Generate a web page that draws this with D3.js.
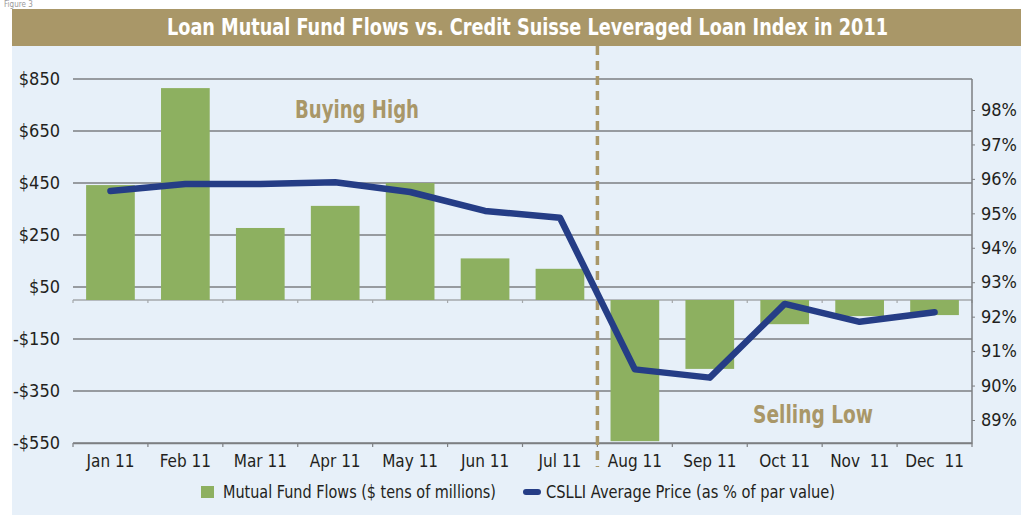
<!DOCTYPE html>
<html>
<head>
<meta charset="utf-8">
<script src="https://cdn.jsdelivr.net/npm/d3@7"></script>
<style>
  body { margin: 0; background: #fff; }
  svg { display: block; }
  text { font-family: "DejaVu Sans Condensed", "Liberation Sans Narrow", sans-serif; }
</style>
</head>
<body>
<svg id="chart"></svg>
<script>
// ---- data ----
let months = ['Jan 11', 'Feb 11', 'Mar 11', 'Apr 11', 'May 11', 'Jun 11',
              'Jul 11', 'Aug 11', 'Sep 11', 'Oct 11', 'Nov  11', 'Dec  11'];
// Mutual fund flows, $ tens of millions
let flows = [442, 815, 277, 362, 450, 160, 120, -543, -265, -93, -62, -58];
// CSLLI average price, % of par
let prices = [95.65, 95.85, 95.85, 95.9, 95.62, 95.07, 94.87, 90.47, 90.23, 92.37, 91.85, 92.13];
let leftTicks = [850, 650, 450, 250, 50, -150, -350, -550];
let rightTicks = [98, 97, 96, 95, 94, 93, 92, 91, 90, 89];

let title = 'Loan Mutual Fund Flows vs. Credit Suisse Leveraged Loan Index in 2011';
let legendLabels = ['Mutual Fund Flows ($ tens of millions)', 'CSLLI Average Price (as % of par value)'];

let tan = '#a99768';
let green = '#8db060';
let blue = '#253d86';
let gridColor = '#7d7f82';
let font = '"DejaVu Sans Condensed", "Liberation Sans Narrow", sans-serif';

function getConfig() {
  let width = 1021;
  let height = 515;
  let margin = { top: 79, bottom: 72, left: 73, right: 49 };
  let bodyWidth = width - margin.left - margin.right;
  let bodyHeight = height - margin.top - margin.bottom;
  let container = d3.select('#chart').attr('width', width).attr('height', height);
  return { width, height, margin, bodyWidth, bodyHeight, container };
}

function getScales(config) {
  let { bodyWidth, bodyHeight } = config;
  let xScale = d3.scaleBand().range([0, bodyWidth]).domain(months).paddingInner(0.35).paddingOuter(0.175);
  let xBand = d3.scaleBand().range([0, bodyWidth]).domain(months);
  let yScale = d3.scaleLinear().range([0, bodyHeight]).domain([850, -550]);
  // right axis: 98% sits 31px below top, 89% 23px above bottom
  let yRight = d3.scaleLinear().range([31, bodyHeight - 23]).domain([98, 89]);
  return { xScale, xBand, yScale, yRight };
}

function drawFrame(config) {
  let { container, width, height } = config;
  container.append('text')
    .attr('x', 4).attr('y', 7)
    .attr('fill', '#999').style('font-size', '8px')
    .text('Figure 3');
  container.append('rect')
    .attr('x', 12).attr('y', 46).attr('width', width - 12).attr('height', height - 46)
    .attr('fill', '#e7f0f9');
  container.append('rect')
    .attr('x', 12).attr('y', 9).attr('width', width - 12).attr('height', 37)
    .attr('fill', tan);
  container.append('text')
    .attr('x', 167).attr('y', 35)
    .attr('textLength', 721).attr('lengthAdjust', 'spacingAndGlyphs')
    .attr('fill', '#fff')
    .style('font-size', '23px').style('font-weight', 'bold')
    .text(title);
}

function drawAxes(scales, config) {
  let { xBand, yScale, yRight } = scales;
  let { container, margin, bodyWidth, bodyHeight } = config;
  let body = container.append('g').attr('transform', `translate(${margin.left},${margin.top})`);

  // grid lines from the left axis ticks
  body.selectAll('.grid').data(leftTicks).enter().append('line')
    .attr('x1', 0).attr('x2', bodyWidth)
    .attr('y1', d => yScale(d)).attr('y2', d => yScale(d))
    .attr('stroke', gridColor).attr('stroke-width', 1.5);

  let axisLeft = d3.axisLeft(yScale).tickValues(leftTicks).tickSize(0).tickPadding(13)
    .tickFormat(d => (d < 0 ? '-$' : '$') + Math.abs(d));
  body.append('g').call(axisLeft)
    .call(g => g.select('.domain').remove())
    .call(g => g.selectAll('text').attr('fill', '#231f20').style('font-size', '18px').style('font-family', font));

  // zero line with small ticks at the month boundaries
  let boundaries = months.map(m => xBand(m)).concat([bodyWidth]);
  let zero = body.append('g').attr('transform', `translate(0,${yScale(0)})`);
  zero.append('line').attr('x1', 0).attr('x2', bodyWidth).attr('stroke', '#a5a8ab').attr('stroke-width', 1.5);
  zero.selectAll('.tk').data(boundaries).enter().append('line')
    .attr('x1', d => d).attr('x2', d => d).attr('y1', 0).attr('y2', 3)
    .attr('stroke', '#a5a8ab').attr('stroke-width', 1.2);

  // bottom axis
  let axisBottom = d3.axisBottom(xBand).tickSize(0).tickPadding(12);
  let bottom = body.append('g').attr('transform', `translate(0,${bodyHeight})`).call(axisBottom);
  bottom.select('.domain').attr('stroke', gridColor).attr('stroke-width', 1.5);
  bottom.selectAll('text').attr('fill', '#231f20').style('font-size', '17px')
    .style('font-family', font).style('white-space', 'pre');
  bottom.selectAll('.btk').data(boundaries).enter().append('line')
    .attr('x1', d => d).attr('x2', d => d).attr('y1', 0).attr('y2', 4)
    .attr('stroke', gridColor).attr('stroke-width', 1.2);

  // right axis
  let axisRight = d3.axisRight(yRight).tickValues(rightTicks).tickSize(3).tickPadding(6)
    .tickFormat(d => d + '%');
  let right = body.append('g').attr('transform', `translate(${bodyWidth},0)`).call(axisRight);
  right.select('.domain').attr('d', `M0,0V${bodyHeight}`).attr('stroke', gridColor).attr('stroke-width', 1.5);
  right.selectAll('.tick line').attr('stroke', gridColor);
  right.selectAll('text').attr('fill', '#231f20').style('font-size', '18px').style('font-family', font);

  return body;
}

function drawBars(body, scales) {
  let { xScale, yScale } = scales;
  body.selectAll('.bar').data(flows).enter().append('rect')
    .attr('class', 'bar')
    .attr('x', (d, i) => xScale(months[i]))
    .attr('width', xScale.bandwidth())
    .attr('y', d => yScale(Math.max(0, d)))
    .attr('height', d => Math.abs(yScale(d) - yScale(0)))
    .attr('fill', green);
}

function drawDivider(body, scales, config) {
  let { xBand } = scales;
  let x = xBand('Aug 11');
  body.append('line')
    .attr('x1', x).attr('x2', x)
    .attr('y1', 46 - config.margin.top).attr('y2', config.bodyHeight + 24)
    .attr('stroke', tan).attr('stroke-width', 3.5)
    .attr('stroke-dasharray', '9,6');
}

function drawLine(body, scales) {
  let { xBand, yRight } = scales;
  let line = d3.line()
    .x((d, i) => xBand(months[i]) + xBand.bandwidth() / 2)
    .y(d => yRight(d));
  body.append('path').datum(prices)
    .attr('d', line)
    .attr('fill', 'none')
    .attr('stroke', blue).attr('stroke-width', 6.5)
    .attr('stroke-linecap', 'round').attr('stroke-linejoin', 'round');
}

function drawNotes(config) {
  let { container } = config;
  container.append('text').attr('x', 295).attr('y', 118)
    .attr('textLength', 124).attr('lengthAdjust', 'spacingAndGlyphs')
    .attr('fill', tan).style('font-size', '25px').style('font-weight', 'bold').text('Buying High');
  container.append('text').attr('x', 753).attr('y', 423)
    .attr('textLength', 120).attr('lengthAdjust', 'spacingAndGlyphs')
    .attr('fill', tan).style('font-size', '25px').style('font-weight', 'bold').text('Selling Low');
}

function drawLegend(config) {
  let { container } = config;
  let g = container.append('g');
  g.append('rect').attr('x', 201).attr('y', 486).attr('width', 13).attr('height', 12).attr('fill', green);
  g.append('text').attr('x', 223).attr('y', 498)
    .attr('textLength', 273).attr('lengthAdjust', 'spacingAndGlyphs')
    .attr('fill', '#231f20').style('font-size', '17px').text(legendLabels[0]);
  g.append('line').attr('x1', 526).attr('x2', 538).attr('y1', 492).attr('y2', 492)
    .attr('stroke', blue).attr('stroke-width', 6).attr('stroke-linecap', 'round');
  g.append('text').attr('x', 546).attr('y', 498)
    .attr('textLength', 289).attr('lengthAdjust', 'spacingAndGlyphs')
    .attr('fill', '#231f20').style('font-size', '17px').text(legendLabels[1]);
}

function drawChart() {
  let config = getConfig();
  let scales = getScales(config);
  drawFrame(config);
  let body = drawAxes(scales, config);
  drawBars(body, scales);
  drawDivider(body, scales, config);
  drawLine(body, scales);
  drawNotes(config);
  drawLegend(config);
}

drawChart();
</script>
</body>
</html>
